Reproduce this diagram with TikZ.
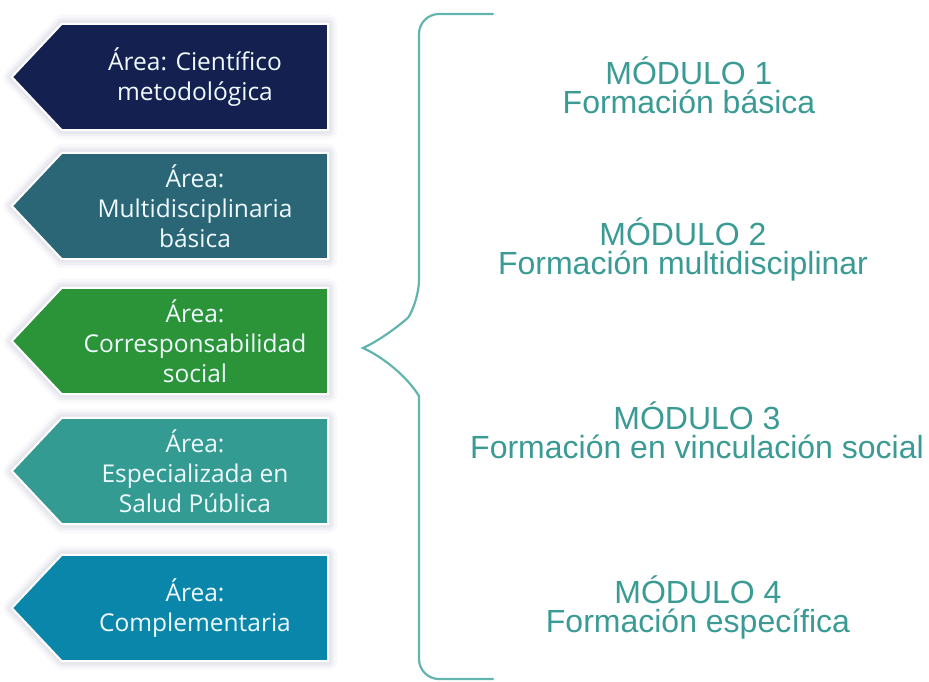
\documentclass[tikz,border=0pt]{standalone}
\usepackage{fontspec}
\setmainfont{Liberation Sans}
\newfontfamily\areafont{Open Sans}
\usetikzlibrary{backgrounds}

\definecolor{cazul}{HTML}{142050}
\definecolor{cpetroleo}{HTML}{2A6675}
\definecolor{cverde}{HTML}{2B9438}
\definecolor{cturquesa}{HTML}{339B92}
\definecolor{ccian}{HTML}{0A86AA}
\definecolor{cmodulo}{HTML}{3A9A94}
\definecolor{cllave}{HTML}{62B5AE}

\newcommand\areapath[1]{(#1.north east) -- (#1.north west) -- ([xshift=-50pt]#1.west) -- (#1.south west) -- (#1.south east) -- cycle}

\tikzset{
  area/.style={minimum width=266pt, minimum height=106pt, inner sep=0pt,
    text=white!94!cyan, align=center, font=\areafont\fontsize{24.5pt}{30pt}\selectfont},
  modulo/.style={anchor=base, align=center, text=cmodulo,
    font=\fontsize{32pt}{29pt}\selectfont},
  llave/.style={draw=cllave, line width=2.2pt, line cap=round}
}

\begin{document}
\begin{tikzpicture}[x=1pt, y=-1pt]
    \useasboundingbox (0,0) rectangle (929,681);

    % areas
    \node[area] (a1) at (195,77) {Área: Científico\\metodológica};
    \node[area] (a2) at (195,206) {Área:\\Multidisciplinaria\\básica};
    \node[area] (a3) at (195,341) {Área:\\Corresponsabilidad\\social};
    \node[area] (a4) at (195,471) {Área:\\Especializada en\\Salud Pública};
    \node[area] (a5) at (195,608) {Área:\\Complementaria};

    \begin{scope}[on background layer]
        \foreach \n/\c in {a1/cazul, a2/cpetroleo, a3/cverde, a4/cturquesa, a5/ccian} {
            \foreach \w/\o in {18/0.025, 12/0.035, 7/0.045}
                \draw[line width=\w pt, black!70!blue, opacity=\o, line join=round, xshift=2pt, yshift=-3pt] \areapath{\n};
            \draw[white, line width=2pt, fill=\c] \areapath{\n};
        }
    \end{scope}

    % llave
    \coordinate (llave-sup) at (493,14);
    \coordinate (llave-pico) at (363,348);
    \coordinate (llave-inf) at (493,679);
    \draw[llave] (llave-sup) [rounded corners=20pt] -- (419,14) -- (419,300) [sharp corners]
        .. controls (408,318) and (385,338) .. (llave-pico)
        .. controls (385,358) and (408,378) .. (419,396)
        [rounded corners=20pt] -- (419,679) -- (llave-inf);

    % modulos
    \node[modulo] (m1) at (689,113) {MÓDULO 1\\Formación básica};
    \node[modulo] (m2) at (683,274) {MÓDULO 2\\Formación multidisciplinar};
    \node[modulo] (m3) at (697,458) {MÓDULO 3\\Formación en vinculación social};
    \node[modulo] (m4) at (698,632) {MÓDULO 4\\Formación específica};
\end{tikzpicture}
\end{document}
